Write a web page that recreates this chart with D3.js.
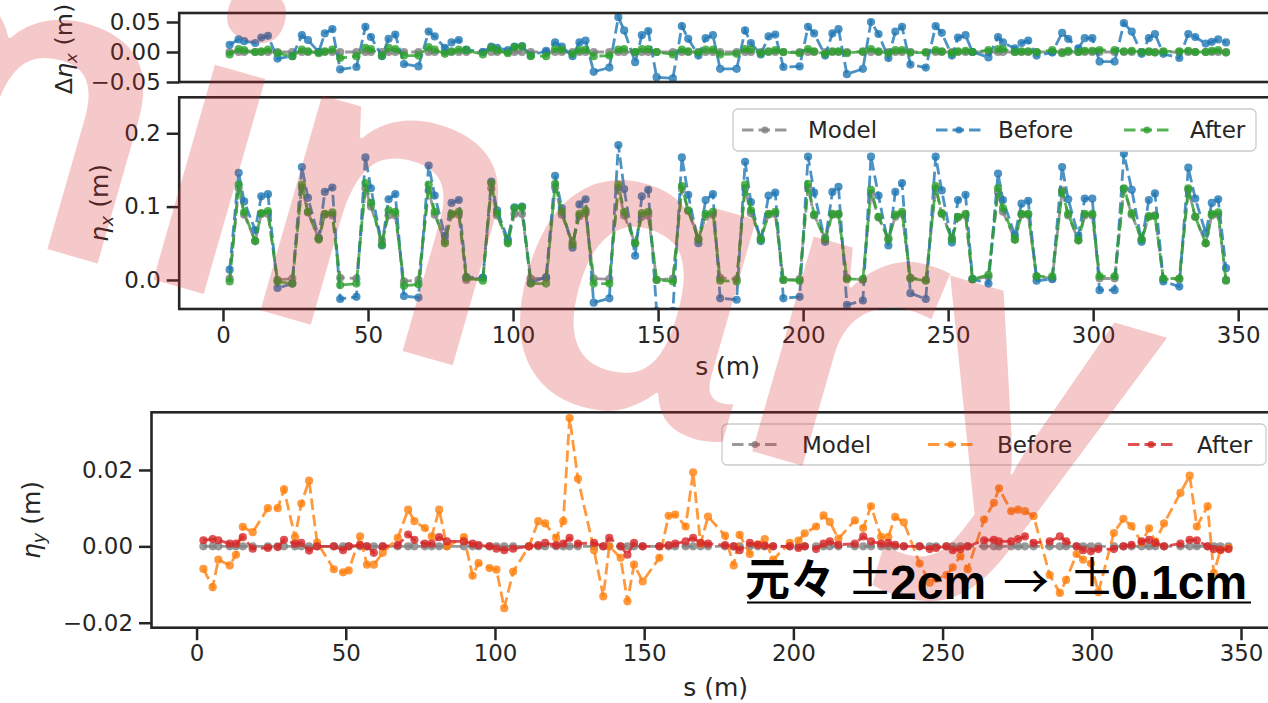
<!DOCTYPE html>
<html>
<head>
<meta charset="utf-8">
<script src="https://cdn.jsdelivr.net/npm/d3@7"></script>
<style>
html,body{margin:0;padding:0;background:#fff;}
svg{display:block;}
</style>
</head>
<body>
<script>
// ---------------- DATA ----------------
const sPos = [2.3,5.4,7.3,11.1,13.2,15.5,18.8,
23.9,27.2,29.3,33.0,35.1,37.7,40.4,
46.0,49.1,51.0,54.8,57.1,59.4,62.4,
67.4,70.9,73.0,76.5,78.8,81.3,83.9,
89.6,92.5,94.5,98.2,100.5,103.1,106.1,
111.4,114.5,116.8,120.5,122.9,125.0,127.8,
133.2,136.3,138.3,142.1,144.4,146.6,149.5,
155.1,158.2,160.4,163.9,166.4,168.9,171.4,
177.1,180.0,182.0,185.4,188.1,190.4,193.2,
198.8,201.7,203.8,207.6,210.1,212.2,215.1,
220.6,223.4,226.0,229.4,231.8,234.1,237.0,
242.3,245.7,247.8,251.3,253.4,256.0,258.4,
263.9,267.2,268.9,273.0,275.3,277.6,280.5,
285.9,289.3,291.4,294.9,297.1,299.7,302.2,
307.4,310.6,313.3,316.7,319.2,321.3,324.2,
329.7,332.8,335.2,338.8,340.9,343.1,345.8];

// model horizontal dispersion (m)
const etaxModel = [0.002,0.125,0.089,0.053,0.090,0.090,0.000,
0.002,0.126,0.092,0.057,0.089,0.088,0.003,
0.002,0.125,0.100,0.054,0.088,0.088,-0.002,
0.000,0.122,0.089,0.053,0.089,0.089,0.000,
0.003,0.125,0.088,0.052,0.090,0.090,0.002,
0.002,0.126,0.089,0.051,0.087,0.091,0.002,
0.001,0.126,0.088,0.050,0.086,0.088,0.000,
0.002,0.124,0.094,0.056,0.086,0.089,0.003,
0.001,0.125,0.091,0.057,0.089,0.090,0.000,
0.001,0.126,0.088,0.058,0.089,0.089,0.003,
0.000,0.118,0.085,0.057,0.086,0.090,0.003,
0.000,0.125,0.090,0.057,0.085,0.088,0.001,
0.004,0.120,0.093,0.055,0.089,0.089,0.005,
0.002,0.122,0.088,0.054,0.088,0.088,0.002,
0.002,0.124,0.089,0.055,0.086,0.088,0.001,
0.001,0.123,0.086,0.050,0.088,0.089,0.000];

// measured - model, before correction (m)
const dEtaxBefore = [0.012,0.021,0.018,0.015,0.024,0.027,-0.011,
-0.007,0.028,0.020,0.000,0.031,0.038,-0.029,
-0.025,0.042,0.025,-0.007,0.022,0.029,-0.020,
-0.024,0.034,0.026,0.007,0.016,0.020,0.004,
0.000,0.009,0.007,0.003,0.009,0.010,-0.006,
0.002,0.016,0.009,-0.007,0.016,0.019,-0.033,
-0.026,0.058,0.036,-0.017,0.028,0.035,-0.042,
-0.044,0.043,0.022,-0.006,0.023,0.028,-0.028,
-0.028,0.036,0.015,-0.004,0.026,0.029,-0.025,
-0.024,0.042,0.031,-0.006,0.031,0.038,-0.037,
-0.028,0.050,0.030,-0.010,0.034,0.042,-0.021,
-0.026,0.043,0.032,-0.006,0.024,0.028,0.000,
-0.009,0.025,0.016,0.006,0.015,0.019,-0.006,
-0.001,0.032,0.022,0.006,0.023,0.023,-0.016,
-0.016,0.048,0.034,-0.003,0.023,0.030,-0.003,
-0.010,0.030,0.025,0.014,0.017,0.021,0.016];

// measured - model, after correction (m)
const dEtaxAfter = [-0.004,0.005,0.003,0.000,0.001,0.004,-0.002,
-0.007,0.004,0.001,-0.002,0.001,0.004,-0.010,
-0.007,0.007,0.005,-0.006,0.007,0.005,-0.006,
-0.006,0.008,0.004,-0.003,0.001,0.004,0.003,
-0.004,0.007,0.003,-0.002,0.008,0.009,-0.007,
-0.007,0.005,0.004,-0.003,0.003,0.004,-0.007,
-0.006,0.004,0.005,0.000,0.005,0.005,0.000,
-0.004,0.004,0.001,-0.001,0.004,0.004,-0.004,
-0.003,0.005,0.004,-0.002,0.001,0.003,0.000,
-0.002,0.005,0.001,-0.003,0.001,0.001,-0.002,
0.001,0.005,0.001,-0.002,0.003,0.003,-0.001,
-0.001,0.003,0.001,-0.002,0.001,0.002,0.000,
0.003,0.005,0.005,0.000,0.001,0.001,0.000,
0.003,-0.002,0.002,0.000,0.002,0.002,0.003,
0.003,0.001,0.002,0.000,0.001,-0.001,0.001,
0.001,0.002,0.000,0.000,0.002,0.003,-0.001];

// vertical dispersion (m)
const etayModel = [0,0,0,0,0,0,0, 0,0,0,0,0,0,0, 0,0,0,0,0,0,0, 0,0,0,0,0,0,0,
0,0,0,0,0,0,0, 0,0,0,0,0,0,0, 0,0,0,0,0,0,0, 0,0,0,0,0,0,0,
0,0,0,0,0,0,0, 0,0,0,0,0,0,0, 0,0,0,0,0,0,0, 0,0,0,0,0,0,0,
0,0,0,0,0,0,0, 0,0,0,0,0,0,0, 0,0,0,0,0,0,0, 0,0,0,0,0,0,0];

const etayBefore = [-0.0059,-0.0107,-0.0035,-0.0050,-0.0022,0.0051,0.0037,
0.0100,0.0100,0.0149,0.0024,0.0112,0.0172,0.0010,
-0.0060,-0.0068,-0.0063,0.0026,-0.0048,-0.0048,-0.0017,
0.0022,0.0096,0.0066,0.0048,0.0026,0.0096,0.0000,
0.0024,-0.0077,-0.0044,-0.0057,-0.0061,-0.0162,-0.0066,
0.0000,0.0066,0.0060,0.0022,0.0066,0.0336,0.0177,
-0.0010,-0.0131,0.0000,-0.0030,-0.0144,-0.0048,-0.0092,
-0.0030,0.0080,0.0083,0.0052,0.0194,0.0007,0.0078,
0.0028,-0.0050,0.0030,-0.0020,0.0005,0.0019,-0.0035,
0.0009,0.0015,0.0034,0.0052,0.0081,0.0064,0.0020,
0.0068,0.0048,0.0105,0.0025,0.0025,0.0077,0.0063,
-0.0045,-0.0095,-0.0085,-0.0075,-0.0055,-0.0025,-0.0060,
0.0070,0.0114,0.0152,0.0092,0.0096,0.0092,0.0079,
-0.0075,-0.0122,-0.0088,-0.0020,-0.0035,-0.0045,-0.0120,
0.0035,0.0072,0.0053,0.0010,0.0047,0.0012,0.0060,
0.0140,0.0185,0.0052,0.0105,-0.0070,-0.0010,-0.0004];

const etayAfter = [0.0016,0.0019,0.0016,0.0007,0.0007,0.0024,-0.0006,
-0.0004,-0.0002,0.0017,0.0007,0.0009,-0.0011,0.0000,
0.0000,-0.0010,0.0000,0.0003,0.0000,-0.0017,0.0000,
0.0003,0.0031,0.0017,0.0007,0.0007,0.0024,0.0013,
0.0013,0.0007,0.0003,0.0000,-0.0006,-0.0010,-0.0006,
0.0000,0.0003,0.0009,0.0003,0.0007,0.0022,0.0007,
0.0009,0.0000,0.0022,0.0000,-0.0022,0.0009,0.0000,
0.0000,0.0003,0.0007,0.0013,0.0022,0.0009,0.0007,
0.0003,0.0000,-0.0010,0.0009,0.0004,0.0002,0.0000,
0.0000,-0.0004,0.0000,-0.0007,0.0007,0.0013,0.0004,
0.0007,0.0026,0.0013,0.0007,0.0009,0.0004,0.0000,
0.0000,-0.0007,-0.0004,0.0000,-0.0010,-0.0007,0.0000,
0.0016,0.0017,0.0013,0.0013,0.0019,0.0026,0.0009,
0.0013,0.0026,0.0013,0.0000,-0.0010,-0.0013,-0.0007,
-0.0007,0.0000,0.0004,0.0013,0.0017,0.0009,0.0000,
0.0007,0.0017,0.0016,0.0000,-0.0007,-0.0009,-0.0007];

const xTickValues = [0,50,100,150,200,250,300,350];
const yTickTop = [-0.05,0,0.05];
const yTickMid = [0,0.1,0.2];
const yTickBot = [-0.02,0,0.02];
const legendLabels = ["Model","Before","After"];
const annotationParts = ["元々","±","2cm","→","±","0.1cm"];
const watermarkText = "Prelimin\u0251ry";

// derived series
const etaxBefore = etaxModel.map((m,i)=>m+dEtaxBefore[i]);
const etaxAfter  = etaxModel.map((m,i)=>m+dEtaxAfter[i]);
const dEtaxModel = etaxModel.map(m=>m-m);

// ---------------- STYLE ----------------
const C = {gray:"#7f7f7f", blue:"#1f77b4", green:"#2ca02c", orange:"#ff7f0e", red:"#d62728", ink:"#262626"};
const W=1268, H=703;
const tickFont = 22.9, labelFont = 25, legendFont = 23;

const svg = d3.select("body").append("svg").attr("width",W).attr("height",H)
  .style("font-family","'DejaVu Sans'");

const xTop = d3.scaleLinear().domain([-15.1,363]).range([179.2,1275.9]);
const yTop = d3.scaleLinear().domain([-0.05,0.065]).range([82,13]);
const yMid = d3.scaleLinear().domain([-0.0396,0.249]).range([309,97.3]);
const xBot = d3.scaleLinear().domain([-15.1,363]).range([151.5,1279.8]);
const yBot = d3.scaleLinear().domain([-0.0213,0.0351]).range([627.7,412.3]);

let clipId = 0;
function panel(x, y, yTicks, yFmt, showX) {
  const g = svg.append("g");
  const x0=x.range()[0], x1=x.range()[1], y0=y.range()[1], y1=y.range()[0];
  const id = "clip"+(clipId++);
  svg.append("clipPath").attr("id",id).append("rect").attr("x",x0).attr("y",y0).attr("width",x1-x0).attr("height",y1-y0);
  const data = g.append("g").attr("clip-path",`url(#${id})`);
  const ya = g.append("g").attr("transform",`translate(${x0},0)`)
    .call(d3.axisLeft(y).tickValues(yTicks).tickFormat(d3.format(yFmt)).tickSize(12.5).tickPadding(6));
  ya.select(".domain").remove();
  ya.selectAll("line").attr("stroke",C.ink).attr("stroke-width",2.5);
  ya.selectAll("text").attr("font-size",tickFont).attr("fill",C.ink).attr("font-family","'DejaVu Sans'");
  if (showX) {
    const xa = g.append("g").attr("transform",`translate(0,${y1})`)
      .call(d3.axisBottom(x).tickValues(xTickValues).tickFormat(d3.format("d")).tickSize(12.5).tickPadding(5));
    xa.select(".domain").remove();
    xa.selectAll("line").attr("stroke",C.ink).attr("stroke-width",2.5);
    xa.selectAll("text").attr("font-size",tickFont).attr("fill",C.ink).attr("font-family","'DejaVu Sans'");
  }
  g.append("rect").attr("x",x0).attr("y",y0).attr("width",x1-x0).attr("height",y1-y0)
    .attr("fill","none").attr("stroke",C.ink).attr("stroke-width",2.6);
  return data;
}

function series(g, x, y, xs, ys, color) {
  const pts = xs.map((d,i)=>[d,ys[i]]);
  g.append("path").datum(pts)
    .attr("d", d3.line().x(d=>x(d[0])).y(d=>y(d[1])))
    .attr("fill","none").attr("stroke",color).attr("stroke-width",2.8)
    .attr("stroke-dasharray","11.5,5").attr("stroke-opacity",0.8);
  g.append("g").selectAll("circle").data(pts).join("circle")
    .attr("cx",d=>x(d[0])).attr("cy",d=>y(d[1])).attr("r",4.1)
    .attr("fill",color).attr("fill-opacity",0.8);
}

function legend(box, handles, texts, colors, cy) {
  const g = svg.append("g");
  g.append("rect").attr("x",box[0]).attr("y",box[1]).attr("width",box[2]-box[0]).attr("height",box[3]-box[1])
    .attr("rx",5).attr("fill","#fff").attr("fill-opacity",0.8).attr("stroke","#cccccc").attr("stroke-width",1.3);
  legendLabels.forEach((lab,i)=>{
    g.append("line").attr("x1",handles[i]).attr("x2",handles[i]+46).attr("y1",cy).attr("y2",cy)
      .attr("stroke",colors[i]).attr("stroke-width",2.8).attr("stroke-dasharray","11.5,5").attr("stroke-opacity",0.8);
    g.append("circle").attr("cx",handles[i]+23).attr("cy",cy).attr("r",3.6).attr("fill",colors[i]).attr("fill-opacity",0.8);
    g.append("text").attr("x",texts[i]).attr("y",cy+8.3).attr("font-size",legendFont).attr("fill",C.ink).text(lab);
  });
}

function ylabel(x, y, sym, sub, prefix, fs) {
  const t = svg.append("text").attr("transform",`translate(${x},${y}) rotate(-90)`)
    .attr("text-anchor","middle").attr("font-size",fs).attr("fill",C.ink);
  if (prefix) t.append("tspan").text(prefix);
  t.append("tspan").attr("font-style","italic").text(sym);
  t.append("tspan").attr("font-style","italic").attr("font-size",fs*0.7).attr("dy",5).text(sub);
  t.append("tspan").attr("dy",-5).text(" (m)");
}

// ---- top panel: delta eta_x ----
const gTop = panel(xTop, yTop, yTickTop, ".2f", false);
series(gTop, xTop, yTop, sPos, dEtaxModel, C.gray);
series(gTop, xTop, yTop, sPos, dEtaxBefore, C.blue);
series(gTop, xTop, yTop, sPos, dEtaxAfter, C.green);
ylabel(72, 49, "η", "x", "Δ", 23.8);

// ---- middle panel: eta_x ----
const gMid = panel(xTop, yMid, yTickMid, ".1f", true);
series(gMid, xTop, yMid, sPos, etaxModel, C.gray);
series(gMid, xTop, yMid, sPos, etaxBefore, C.blue);
series(gMid, xTop, yMid, sPos, etaxAfter, C.green);
ylabel(108, 203, "η", "x", null, labelFont);
svg.append("text").attr("x",(179.2+1275.9)/2).attr("y",375).attr("text-anchor","middle")
  .attr("font-size",labelFont).attr("fill",C.ink).text("s (m)");
legend([733,109,1256,151],[742,936,1124],[808,998,1190],[C.gray,C.blue,C.green],130);

// ---- bottom panel: eta_y ----
const gBot = panel(xBot, yBot, yTickBot, ".2f", true);
series(gBot, xBot, yBot, sPos, etayModel, C.gray);
series(gBot, xBot, yBot, sPos, etayBefore, C.orange);
series(gBot, xBot, yBot, sPos, etayAfter, C.red);
ylabel(40, 520, "η", "y", null, labelFont);
svg.append("text").attr("x",(151.5+1279.8)/2).attr("y",696).attr("text-anchor","middle")
  .attr("font-size",labelFont).attr("fill",C.ink).text("s (m)");
legend([722,424,1266,465],[732,928,1128],[802,997,1197],[C.gray,C.orange,C.red],444.5);

// ---- watermark ----
const wm = svg.append("text").text(watermarkText)
  .attr("font-family","'Noto Sans','Open Sans'").attr("font-weight",600).attr("font-size",412)
  .attr("letter-spacing",-5)
  .attr("fill","#d62728").attr("fill-opacity",0.25);
const ext = wm.node().getExtentOfChar(6);
const cx = ext.x + ext.width/2;
wm.attr("transform",`translate(176,286) rotate(16) translate(${-cx},0)`);

// ---- annotation ----
const ann = svg.append("g").attr("fill","#000");
const cjk = "'Noto Sans CJK JP'", lat = "'Liberation Sans'";
ann.append("text").attr("x",745).attr("y",596).attr("font-family",cjk).attr("font-weight",700).attr("font-size",45).text(annotationParts[0]);
ann.append("text").attr("x",847).attr("y",594).attr("font-family",cjk).attr("font-weight",400).attr("font-size",46).text(annotationParts[1]);
ann.append("text").attr("x",890).attr("y",599).attr("font-family",lat).attr("font-weight",700).attr("font-size",48).text(annotationParts[2]);
ann.append("text").attr("x",1003).attr("y",598).attr("font-family",cjk).attr("font-weight",400).attr("font-size",46).text(annotationParts[3]);
ann.append("text").attr("x",1069).attr("y",594).attr("font-family",cjk).attr("font-weight",400).attr("font-size",46).text(annotationParts[4]);
ann.append("text").attr("x",1111).attr("y",599).attr("font-family",lat).attr("font-weight",700).attr("font-size",48).text(annotationParts[5]);
ann.append("line").attr("x1",747).attr("x2",1251).attr("y1",602.5).attr("y2",602.5).attr("stroke","#000").attr("stroke-width",2.2);
</script>
</body>
</html>
